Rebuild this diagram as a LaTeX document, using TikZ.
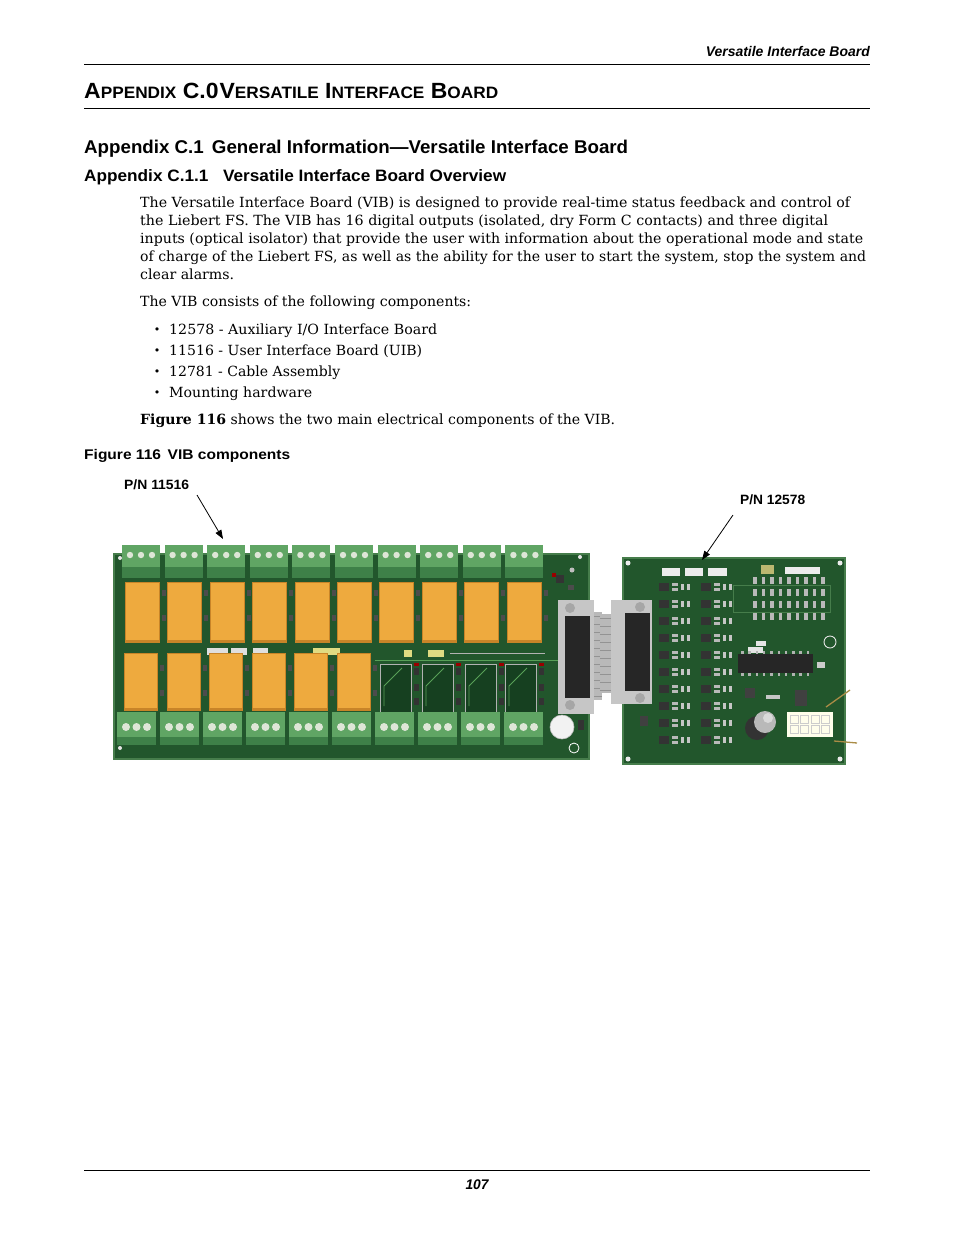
\documentclass[tikz,border=0pt]{standalone}
\usepackage{graphicx}
\usepackage{fontspec}
\setmainfont{DejaVu Serif}
\newfontfamily\hsans{Liberation Sans}
\usetikzlibrary{arrows.meta}
\newcommand\fw[2]{\resizebox{#1pt}{\height}{#2}}
\newcommand\SCx[1]{{\fontsize{16.5}{17}\selectfont #1}}
\definecolor{pcb}{RGB}{34,86,44}
\definecolor{pcbdark}{RGB}{22,64,32}
\definecolor{pcbedge}{RGB}{70,125,75}
\definecolor{tblock}{RGB}{96,165,100}
\definecolor{tblockd}{RGB}{62,128,72}
\definecolor{screw}{RGB}{222,230,215}
\definecolor{relay}{RGB}{238,170,62}
\definecolor{relayd}{RGB}{200,132,40}
\definecolor{trace}{RGB}{88,160,88}
\definecolor{wire}{RGB}{170,140,70}
\tikzset{
  body/.style={anchor=base west,inner sep=0pt,font=\fontsize{14}{16}\selectfont},
  hdA/.style={anchor=base west,inner sep=0pt,font=\hsans\bfseries\fontsize{22}{24}\selectfont},
  hdB/.style={anchor=base west,inner sep=0pt,font=\hsans\bfseries\fontsize{18.5}{20}\selectfont},
  hdC/.style={anchor=base west,inner sep=0pt,font=\hsans\bfseries\fontsize{16.5}{18}\selectfont},
  figcap/.style={anchor=base west,inner sep=0pt,font=\hsans\bfseries\fontsize{14}{16}\selectfont},
  pn/.style={anchor=base west,inner sep=0pt,font=\hsans\bfseries\fontsize{13.5}{15}\selectfont},
  hdr/.style={inner sep=0pt,font=\hsans\bfseries\itshape\fontsize{14}{16}\selectfont},
  bul/.style={anchor=base,inner sep=0pt,font=\fontsize{11}{12}\selectfont},
  rule/.style={line width=1pt},
  arr/.style={line width=0.8pt,-{Triangle[length=9pt,width=6.5pt]}},
}
\begin{document}
\begin{tikzpicture}[x=1pt,y=-1pt]
\useasboundingbox (0,0) rectangle (954,1235);
\fill[white] (0,0) rectangle (954,1235);

% header
\node[hdr,anchor=base east] (hdr) at (870,56) {\fw{164}{Versatile Interface Board}};
\draw[rule] (84,64) -- (870,64);
\node[hdA] (h0) at (84,98) {\fw{414}{A\SCx{PPENDIX} C.0\hspace{1pt}V\SCx{ERSATILE} I\SCx{NTERFACE} B\SCx{OARD}}};
\draw[rule] (84,108) -- (870,108);
\node[hdB] (h1) at (84,153) {\fw{544}{Appendix C.1\hspace{8pt}General Information—Versatile Interface Board}};
\node[hdC] (h2) at (84,181) {\fw{422}{Appendix C.1.1\hspace{14pt}Versatile Interface Board Overview}};

% body
\node[body] (b1) at (140,207) {\fw{710}{The Versatile Interface Board (VIB) is designed to provide real-time status feedback and control of}};
\node[body] (b2) at (140,225) {\fw{688}{the Liebert FS. The VIB has 16 digital outputs (isolated, dry Form C contacts) and three digital}};
\node[body] (b3) at (140,243) {\fw{723}{inputs (optical isolator) that provide the user with information about the operational mode and state}};
\node[body] (b4) at (140,261) {\fw{726}{of charge of the Liebert FS, as well as the ability for the user to start the system, stop the system and}};
\node[body] (b5) at (140,279) {\fw{94}{clear alarms.}};
\node[body] (b6) at (140,306) {\fw{331}{The VIB consists of the following components:}};

\node[bul] (d1) at (157,333) {•};
\node[bul] (d2) at (157,354) {•};
\node[bul] (d3) at (157,375) {•};
\node[bul] (d4) at (157,396) {•};
\node[body] (l1) at (169,334) {\fw{268}{12578 - Auxiliary I/O Interface Board}};
\node[body] (l2) at (169,355) {\fw{253}{11516 - User Interface Board (UIB)}};
\node[body] (l3) at (169,376) {\fw{171}{12781 - Cable Assembly}};
\node[body] (l4) at (169,397) {\fw{143}{Mounting hardware}};
\node[body] (b7) at (140,424) {\fw{475}{\textbf{Figure 116} shows the two main electrical components of the VIB.}};

\node[figcap] (fc) at (84,459) {\fw{206}{Figure 116\hspace{6pt}VIB components}};
\node[pn] (pn1) at (124,489) {\fw{65}{P/N 11516}};
\node[pn] (pn2) at (740,504) {\fw{65}{P/N 12578}};

% ---------------- left board (P/N 11516)
\fill[pcb] (113,553) rectangle (590,760);
\draw[pcbedge,line width=1.2pt] (114,554) rectangle (589,759);
% middle strip labels
\fill[gray!25] (207,648) rectangle (228,655);
\fill[gray!25] (231,648) rectangle (247,655);
\fill[gray!25] (253,648) rectangle (268,655);
\fill[yellow!60!gray!70] (313,648) rectangle (340,655);
\fill[yellow!60!gray!70] (404,650) rectangle (412,657);
\fill[yellow!60!gray!70] (428,650) rectangle (444,657);
\draw[gray!60,line width=0.6pt] (450,653) -- (545,653);
\draw[trace,line width=0.8pt] (375,660) -- (585,660);
% top terminal blocks
\foreach \i in {0,...,9}{
  \pgfmathsetmacro\xa{122+\i*42.6}
  \fill[tblock] (\xa,545) rectangle ++(38,33);
  \fill[tblockd] (\xa,567) rectangle ++(38,11);
  \foreach \k in {0,1,2}{\fill[screw] (\xa+8+\k*11,555) circle (3.2);}
}
% top relays
\foreach \i in {0,...,9}{
  \pgfmathsetmacro\xa{126+\i*42.4}
  \fill[relayd] (\xa-1,582) rectangle ++(35,61);
  \fill[relay] (\xa,583) rectangle ++(33,57);
  \fill[black!70] (\xa+36,590) rectangle ++(4,6);
  \fill[black!70] (\xa+36,615) rectangle ++(4,6);
}
% bottom relays
\foreach \i in {0,...,5}{
  \pgfmathsetmacro\xa{125+\i*42.6}
  \fill[relayd] (\xa-1,653) rectangle ++(34,58);
  \fill[relay] (\xa,654) rectangle ++(32,54);
  \fill[black!70] (\xa+35,665) rectangle ++(4,6);
  \fill[black!70] (\xa+35,690) rectangle ++(4,6);
}
% bottom right modules
\foreach \xa in {380,422,465,505}{
  \fill[pcbdark] (\xa,664) rectangle ++(31,50);
  \draw[trace,line width=0.8pt] (\xa+4,706) -- (\xa+4,686) -- (\xa+22,668);
  \draw[gray!60,line width=0.5pt] (\xa,664) rectangle ++(31,50);
  \fill[black!80] (\xa+34,668) rectangle ++(5,7);
  \fill[black!80] (\xa+34,684) rectangle ++(5,7);
  \fill[black!80] (\xa+34,698) rectangle ++(5,7);
  \fill[red!60!black] (\xa+34,663) rectangle ++(5,3);
}
% bottom terminal blocks
\foreach \i in {0,...,9}{
  \pgfmathsetmacro\xa{117+\i*43}
  \fill[tblock] (\xa,712) rectangle ++(39,33);
  \fill[tblockd] (\xa,737) rectangle ++(39,8);
  \foreach \k in {0,1,2}{\fill[screw] (\xa+9+\k*10.5,727) circle (4);}
}
% small parts near top right
\fill[black!80] (556,575) rectangle ++(8,8);
\fill[red!60!black] (552,573) rectangle ++(4,4);
\fill[black!70] (568,585) rectangle ++(6,5);
\fill[gray!50] (572,570) circle (2.5);
% DB25 connector
\fill[gray!55] (593,612) rectangle (602,700);
\foreach \j in {0,...,10}{\draw[gray!85,line width=0.5pt] (593,616+\j*8) -- (602,616+\j*8);}
\fill[gray!45] (558,600) rectangle (594,714);
\fill[black!85] (565,616) rectangle (590,698);
\fill[gray!70] (570,608) circle (5);
\fill[gray!70] (570,705) circle (5);
% capacitor
\fill[gray!10] (562,727) circle (12);
\draw[gray!50,line width=0.6pt] (562,727) circle (12);
\fill[black!80] (578,720) rectangle ++(6,10);
\draw[white,line width=0.8pt] (574,748) circle (5);
\foreach \p in {(120,748),(580,557),(120,558)}{\fill[white!80!gray] \p circle (2);}

% ---------------- right board (P/N 12578)
\fill[pcb] (622,557) rectangle (846,765);
\draw[pcbedge,line width=1.2pt] (623,558) rectangle (845,764);
\foreach \p in {(628,563),(840,563),(628,759),(840,759)}{\fill[white!85!gray] \p circle (2.5);}
% labels
\fill[gray!15] (662,568) rectangle (680,576);
\fill[gray!15] (685,568) rectangle (703,576);
\fill[gray!15] (708,568) rectangle (727,576);
\fill[gray!15] (785,567) rectangle (820,574);
\fill[yellow!40!gray] (761,565) rectangle (774,574);
% component columns left
\foreach \r in {0,...,9}{
  \foreach \c in {0,1}{
    \pgfmathsetmacro\xa{659+\c*42}
    \pgfmathsetmacro\ya{583+\r*17}
    \fill[black!80] (\xa,\ya) rectangle ++(10,8);
    \fill[gray!55] (\xa+13,\ya) rectangle ++(6,3);
    \fill[gray!55] (\xa+13,\ya+5) rectangle ++(6,3);
    \fill[gray!45] (\xa+22,\ya+1) rectangle ++(3,6);
    \fill[gray!45] (\xa+28,\ya+1) rectangle ++(3,6);
  }
}
% resistor grid right
\draw[pcbedge,line width=0.6pt] (733,585) rectangle (830,612);
\foreach \c in {0,...,8}{
  \foreach \r in {0,...,3}{
    \fill[gray!55] (753+\c*8.5,577+\r*12) rectangle ++(3.5,7);
  }
}
% small ring and parts
\draw[white!80!gray,line width=0.9pt] (830,642) circle (6);
\fill[gray!20] (756,641) rectangle (766,646);
\fill[gray!20] (748,647) rectangle (763,653);
% IC
\fill[black!85] (738,654) rectangle (813,673);
\foreach \k in {0,...,9}{
  \fill[gray!60] (741+\k*7.3,651) rectangle ++(2.5,3);
  \fill[gray!60] (741+\k*7.3,673) rectangle ++(2.5,3);
}
\fill[gray!40] (817,662) rectangle ++(8,6);
% lower parts
\fill[black!75] (745,688) rectangle ++(10,10);
\fill[black!75] (795,690) rectangle ++(12,16);
\fill[gray!45] (766,695) rectangle ++(14,4);
\fill[black!75] (640,716) rectangle ++(8,10);
% capacitor
\fill[black!80] (757,728) circle (12);
\fill[gray!55] (765,722) circle (11);
\fill[gray!30] (768,718) circle (5);
% white connector
\fill[white!92!yellow] (787,712) rectangle (833,737);
\foreach \c in {0,...,3}{
  \foreach \r in {0,1}{\draw[gray!40,line width=0.5pt] (790+\c*10.5,715+\r*10) rectangle ++(8,8);}
}
% wires
\draw[wire,line width=1.3pt] (826,707) -- (850,690);
\draw[wire,line width=1.3pt] (834,741) -- (857,743);
% DB25 connector on right board
\fill[gray!55] (600,614) rectangle (612,693);
\foreach \j in {0,...,9}{\draw[gray!85,line width=0.5pt] (600,618+\j*8) -- (612,618+\j*8);}
\fill[gray!45] (611,600) rectangle (652,704);
\fill[black!85] (625,613) rectangle (650,691);
\fill[gray!70] (640,607) circle (5);
\fill[gray!70] (640,698) circle (5);

% arrows
\coordinate (e1) at (223,539);
\coordinate (s1) at (197,495);
\coordinate (e2) at (702,560);
\coordinate (s2) at (733,515);
\draw[arr] (s1) -- (e1);
\draw[arr] (s2) -- (e2);

% footer
\draw[rule] (84,1170) -- (870,1170);
\node[hdr,anchor=base] (pg) at (477,1189) {\fw{23}{107}};
\end{tikzpicture}
\end{document}
